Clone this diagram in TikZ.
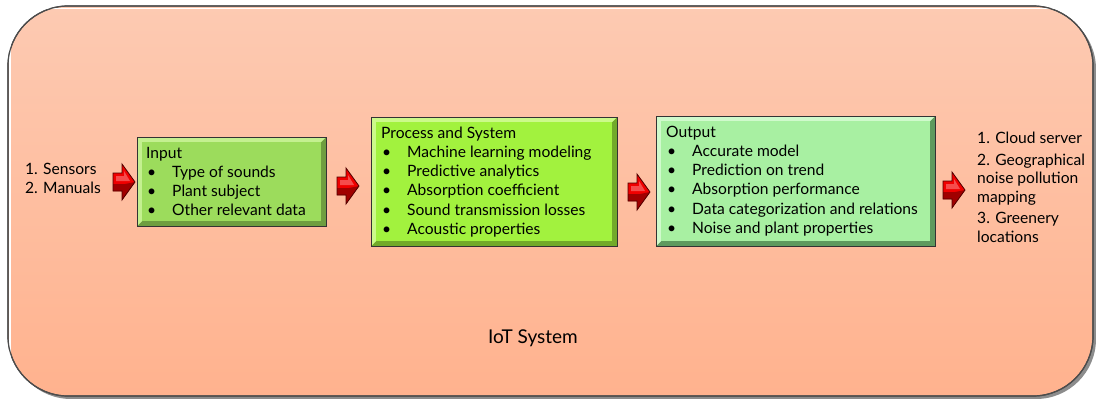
\documentclass[tikz,border=0pt]{standalone}
\usepackage{fontspec}
\setmainfont{Lato}
\usetikzlibrary{calc}
\definecolor{bgtop}{HTML}{FDCAB2}
\definecolor{bgbot}{HTML}{FFB28E}
\definecolor{inA}{HTML}{9CDC5C}
\definecolor{inL}{HTML}{C4F090}
\definecolor{inD}{HTML}{6E9E40}
\definecolor{prA}{HTML}{A2F23E}
\definecolor{prL}{HTML}{CCFA8A}
\definecolor{prD}{HTML}{72AA2A}
\definecolor{ouA}{HTML}{A8F0A2}
\definecolor{ouL}{HTML}{D0FACC}
\definecolor{ouD}{HTML}{5E9A5E}
\definecolor{arR}{HTML}{F00000}
\definecolor{arD}{HTML}{A00000}
\definecolor{arE}{HTML}{500000}
\tikzset{
  x=1pt,y=-1pt,
  txt/.style={anchor=base west,inner sep=0pt,font=\fontsize{15.6}{19.4}\selectfont,text=black},
  bigtxt/.style={anchor=base,inner sep=0pt,font=\fontsize{19}{22}\selectfont,text=black},
  outerframe/.style={rounded corners=60pt,draw=black!70,line width=1.2pt},
}
% bevelled box: name, x1,y1,x2,y2, main, light, dark
\newcommand\bevbox[8]{%
  \fill[#6] (#2,#3) rectangle (#4,#5);
  \fill[#8] (#2,#5) -- (#4,#5) -- (#4,#3) -- (#4-5,#3+5) -- (#4-5,#5-5) -- (#2+5,#5-5) -- cycle;
  \fill[#7] (#2,#3) -- (#4,#3) -- (#4-5,#3+5) -- (#2+5,#3+5) -- (#2+5,#5-5) -- (#2,#5) -- cycle;
  \fill[#6] (#2+5,#3+5) rectangle (#4-5,#5-5);
  \node[draw=black!80,line width=0.9pt,inner sep=0pt,minimum width={#4-#2},minimum height={#5-#3},anchor=north west] (#1) at (#2,#3) {};
}
% block arrow: name, left x, centre y
\newcommand\redarrow[3]{%
  \coordinate (#1) at (#2+11,#3);
  \fill[arR] (#2,#3-9) -- (#2+9,#3-9) -- (#2+9,#3-18) -- (#2+22,#3) -- (#2+9,#3+18) -- (#2+9,#3+9) -- (#2,#3+9) -- cycle;
  \fill[arD] (#2,#3+2) -- (#2+12,#3+2) -- (#2+22,#3) -- (#2+9,#3+18) -- (#2+9,#3+9) -- (#2,#3+9) -- cycle;
  \fill[arR!70!white] (#2+3,#3-6) -- (#2+11,#3-6) -- (#2+11,#3-11) -- (#2+17,#3-1) -- (#2+3,#3-1) -- cycle;
  \draw[arE,line width=0.8pt,line join=miter] (#2,#3-9) -- (#2+9,#3-9) -- (#2+9,#3-18) -- (#2+22,#3) -- (#2+9,#3+18) -- (#2+9,#3+9) -- (#2,#3+9) -- cycle;
}
\begin{document}
\begin{tikzpicture}
\useasboundingbox (0,0) rectangle (1096,399);
% outer frame with shadow
\fill[black!45,rounded corners=60pt] (11,9) rectangle (1096,399);
\shade[top color=bgtop,bottom color=bgbot,outerframe] (8,6) rectangle (1093,396);
\draw[white,line width=1.5pt,rounded corners=58pt] (10,8.5) -- (10,390) (10,8.5) -- (1091,8.5);
\draw[outerframe] (8,6) rectangle (1093,396);
\node[bigtxt] (iot) at (533,343) {IoT System};

% boxes
\bevbox{in}{137}{137}{326}{226}{inA}{inL}{inD}
\bevbox{pr}{371}{117}{617}{246}{prA}{prL}{prD}
\bevbox{ou}{656}{116}{935}{246}{ouA}{ouL}{ouD}

% arrows
\redarrow{a1}{113}{182}
\redarrow{a2}{337}{186}
\redarrow{a3}{628}{192}
\redarrow{a4}{943}{190}

% left text
\node[txt] (s1) at (25,174) {1. Sensors};
\node[txt] (s2) at (25,193) {2. Manuals};

% input
\node[txt] (inT) at (146,158) {Input};
\foreach \t [count=\i] in {Type of sounds,Plant subject,Other relevant data}{
  \node[txt] at (147,158+\i*19) {\textbullet};
  \node[txt] at (172,158+\i*19) {\t};
}
% process
\node[txt] (prT) at (381,138) {Process and System};
\foreach \t [count=\i] in {Machine learning modeling,Predictive analytics,Absorption coefficient,Sound transmission losses,Acoustic properties}{
  \node[txt] at (382,138+\i*19.3) {\textbullet};
  \node[txt] at (407,138+\i*19.3) {\t};
}
% output
\node[txt] (ouT) at (666,137) {Output};
\foreach \t [count=\i] in {Accurate model,Prediction on trend,Absorption performance,Data categorization and relations,Noise and plant properties}{
  \node[txt] at (667,137+\i*19.3) {\textbullet};
  \node[txt] at (692,137+\i*19.3) {\t};
}
% right text
\node[txt] (r1) at (977,143) {1. Cloud server};
\node[txt] (r2) at (977,165) {2. Geographical};
\node[txt] (r3) at (977,183) {noise pollution};
\node[txt] (r4) at (977,202) {mapping};
\node[txt] (r5) at (977,223) {3. Greenery};
\node[txt] (r6) at (977,242) {locations};
\end{tikzpicture}
\end{document}
